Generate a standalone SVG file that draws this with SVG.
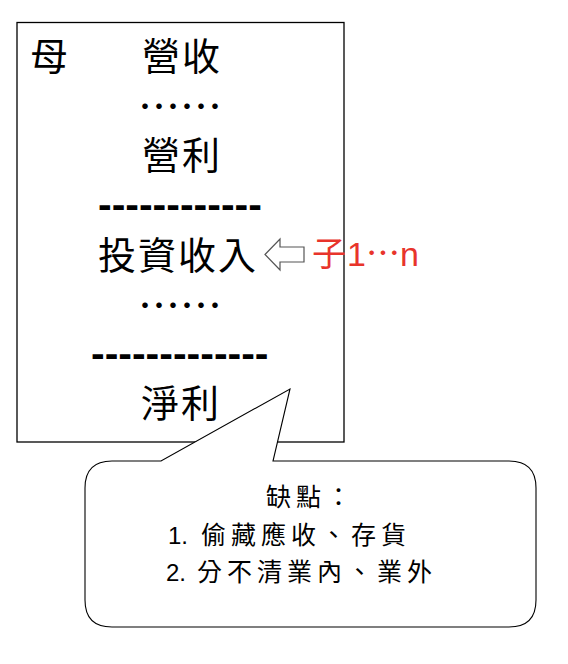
<svg xmlns="http://www.w3.org/2000/svg" width="568" height="664" viewBox="0 0 568 664">
<style>
.cjk{font-family:"Noto Sans CJK TC","Noto Sans CJK SC",sans-serif;fill:#000}
.big{font-size:38px;letter-spacing:2px}
.dots{font-size:42px}
.dash{font-family:"Liberation Sans",Arial,sans-serif;font-size:41px;font-weight:bold;fill:#000}
.lat{font-family:"Liberation Sans",Arial,sans-serif}
.red{fill:#e8342b}
.note{font-size:25px;letter-spacing:5px}
</style>
<rect width="568" height="664" fill="#fff"/>
<g id="parent">
<rect x="17" y="22.5" width="327" height="419.5" fill="#fff" stroke="#000" stroke-width="1.3"/>
<text class="cjk big" x="30" y="70">母</text>
<text class="cjk big" x="142" y="70">營收</text>
<text class="cjk dots" x="138" y="122">……</text>
<text class="cjk big" x="142" y="169">營利</text>
<text class="dash" x="98" y="218">------------</text>
<text class="cjk big" x="98" y="269">投資收入</text>
<text class="cjk dots" x="138" y="321">……</text>
<text class="dash" x="91" y="367">-------------</text>
<text class="cjk big" x="141" y="417">淨利</text>
</g>
<g id="connectors">
<polygon points="265,254.5 280,239 280,247 304,247 304,262 280,262 280,270" fill="#fff" stroke="#555" stroke-width="1.2" stroke-linejoin="miter"/>
</g>
<g id="child">
<text class="red" font-size="34" y="266"><tspan class="cjk red" x="312">子</tspan><tspan class="lat" x="347">1</tspan><tspan class="cjk red" x="366">…</tspan><tspan class="lat" x="400">n</tspan></text>
</g>
<g id="callout">
<path d="M112,461 L161,461 L290,389 L273,461 L509,461 Q536,461 536,488 L536,600 Q536,627 509,627 L112,627 Q85,627 85,600 L85,488 Q85,461 112,461 Z" fill="#fff" stroke="#000" stroke-width="1.1"/>
<text class="cjk note" x="266" y="506">缺點：</text>
<text y="544"><tspan class="lat" font-size="24" x="168">1.</tspan><tspan class="cjk note" x="201">偷藏應收、存貨</tspan></text>
<text y="581"><tspan class="lat" font-size="24" x="166">2.</tspan><tspan class="cjk note" x="197">分不清業內、業外</tspan></text>
</g>
</svg>
